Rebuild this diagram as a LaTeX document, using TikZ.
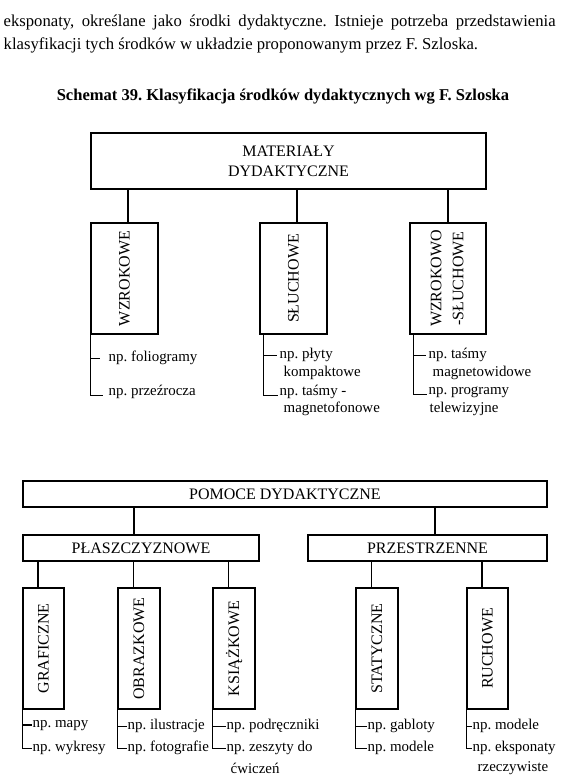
\documentclass[tikz,border=0pt]{standalone}
\usepackage{fontspec}
\setmainfont{Liberation Serif}
\usetikzlibrary{calc}
\newlength{\unitpx}\setlength{\unitpx}{0.75pt}
\frenchspacing

\begin{document}
\begin{tikzpicture}[x=\unitpx,y=-\unitpx,line width=1pt,
  box/.style={draw,inner sep=0pt,font=\fontsize{12}{15}\selectfont},
  lbl/.style={anchor=west,inner sep=0pt,font=\fontsize{11.2}{13}\selectfont},
  txt/.style={anchor=west,inner sep=0pt,font=\fontsize{12.5}{14}\selectfont}]
  \useasboundingbox (0,0) rectangle (571,783);

  % tekst nad schematem
  \node[txt] (txt1) at (3,22) {\makebox[552\unitpx][s]{eksponaty, określane jako środki dydaktyczne. Istnieje potrzeba przedstawienia}};
  \node[txt] (txt2) at (3,45) {klasyfikacji tych środków w układzie proponowanym przez F. Szloska.};
  \node[font=\bfseries\fontsize{12.4}{14}\selectfont] (title) at (283,96) {Schemat 39. Klasyfikacja środków dydaktycznych wg F. Szloska};

  % materialy dydaktyczne
  \node[box,align=center,minimum width=395\unitpx,minimum height=56\unitpx] (mat) at (288.5,161) {MATERIAŁY\\DYDAKTYCZNE};
  \node[box,minimum width=67\unitpx,minimum height=111\unitpx] (wz) at (124.5,278.5) {\rotatebox{90}{WZROKOWE}};
  \node[box,minimum width=67\unitpx,minimum height=111\unitpx] (sl) at (293.5,278.5) {\rotatebox{90}{SŁUCHOWE}};
  \node[box,minimum width=76\unitpx,minimum height=111\unitpx] (ws) at (448,278.5)
    {\rotatebox{90}{\fontsize{12}{16.5}\selectfont\begin{tabular}{@{}c@{}}WZROKOWO\\-SŁUCHOWE\end{tabular}}};
  \draw ($(wz.north)+(3.5,0)$) -- ($(wz.north |- mat.south)+(3.5,0)$);
  \draw ($(sl.north)+(3.5,0)$) -- ($(sl.north |- mat.south)+(3.5,0)$);
  \draw (ws.north) -- (ws.north |- mat.south);

  \node[lbl] (wz1) at (108,358) {np. foliogramy};
  \node[lbl] (wz2) at (108,392) {np. przeźrocza};
  \node[lbl] (sl1) at (279,355) {np. płyty};
  \node[lbl] (sl1b) at (283,373) {kompaktowe};
  \node[lbl] (sl2) at (279,392) {np. taśmy -};
  \node[lbl] (sl2b) at (283,409) {magnetofonowe};
  \node[lbl] (ws1) at (428,355) {np. taśmy};
  \node[lbl] (ws1b) at (432,373) {magnetowidowe};
  \node[lbl] (ws2) at (428,392) {np. programy};
  \node[lbl] (ws2b) at (429,409) {telewizyjne};
  \draw (wz.south west) -- (wz.south west |- wz2.base west) -- ($(wz2.base west)+(-5,0)$);
  \draw (wz.south west |- wz1.mid west) -- ($(wz1.mid west)+(-8,0)$);
  \draw ($(sl.south west)+(4,0)$) |- ($(sl2.base west)+(-1,0)$);
  \draw ($(sl.south west |- sl1.mid west)+(4,0)$) -- ($(sl1.mid west)+(-2,0)$);
  \draw ($(ws.south west)+(4,0)$) |- ($(ws2.base west)+(-1,0)$);
  \draw ($(ws.south west |- ws1.mid west)+(4,0)$) -- ($(ws1.mid west)+(-2,0)$);

  % pomoce dydaktyczne
  \node[box,minimum width=524\unitpx,minimum height=26\unitpx] (pom) at (285,494) {POMOCE DYDAKTYCZNE};
  \node[box,minimum width=236\unitpx,minimum height=26\unitpx] (pla) at (141,548) {PŁASZCZYZNOWE};
  \node[box,minimum width=239\unitpx,minimum height=26\unitpx] (prz) at (427.5,548) {PRZESTRZENNE};
  \draw ($(pla.north)+(-7,0)$) -- ($(pla.north |- pom.south)+(-7,0)$);
  \draw ($(prz.north)+(7.5,0)$) -- ($(prz.north |- pom.south)+(7.5,0)$);

  \node[box,minimum width=41\unitpx,minimum height=121\unitpx] (gra) at (43.5,648.5) {\rotatebox{90}{GRAFICZNE}};
  \node[box,minimum width=42\unitpx,minimum height=121\unitpx] (obr) at (139,648.5) {\rotatebox{90}{OBRAZKOWE}};
  \node[box,minimum width=42\unitpx,minimum height=121\unitpx] (ksi) at (234,648.5) {\rotatebox{90}{KSIĄŻKOWE}};
  \node[box,minimum width=42\unitpx,minimum height=121\unitpx] (sta) at (377,648.5) {\rotatebox{90}{STATYCZNE}};
  \node[box,minimum width=41\unitpx,minimum height=121\unitpx] (ruc) at (487.5,648.5) {\rotatebox{90}{RUCHOWE}};
  \foreach \b/\p in {gra/pla,obr/pla,ksi/pla,sta/prz,ruc/prz}
    \draw ($(\b.north)+(-5.5,0)$) -- ($(\b.north |- \p.south)+(-5.5,0)$);

  \node[lbl] (gra1) at (32,726) {np. mapy};
  \node[lbl] (gra2) at (32,748) {np. wykresy};
  \node[lbl] (obr1) at (127,726) {np. ilustracje};
  \node[lbl] (obr2) at (127,748) {np. fotografie};
  \node[lbl] (ksi1) at (226,726) {np. podręczniki};
  \node[lbl] (ksi2) at (226,748) {np. zeszyty do};
  \node[lbl] (ksi2b) at (230,768) {ćwiczeń};
  \node[lbl] (sta1) at (367,726) {np. gabloty};
  \node[lbl] (sta2) at (367,748) {np. modele};
  \node[lbl] (ruc1) at (472,726) {np. modele};
  \node[lbl] (ruc2) at (472,748) {np. eksponaty};
  \node[lbl] (ruc2b) at (477,768) {rzeczywiste};
  \foreach \b in {gra,obr,ksi,sta,ruc} {
    \draw (\b.south west |- \b1.mid west) -- (\b1.mid west);
    \draw (\b.south west) |- (\b2.mid west);
  }
\end{tikzpicture}
\end{document}
